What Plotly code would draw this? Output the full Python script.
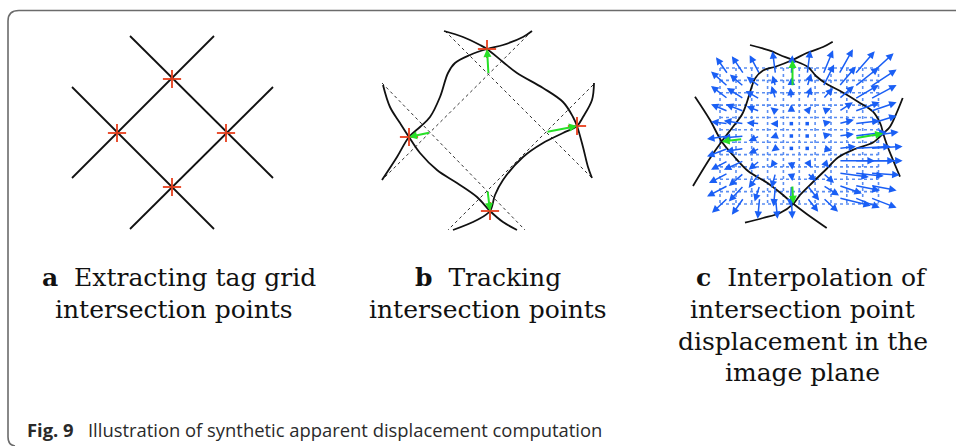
import plotly.graph_objects as go

W, H = 956, 446

# ---------------- Panel a: tag grid lines and intersection points ----------------
A_LINES_X = [[130, 273], [72, 214], [214, 72], [273, 130]]
A_LINES_Y = [[36, 178], [87, 229], [36, 178], [87, 229]]
A_PTS_X = [172, 117, 226, 172]
A_PTS_Y = [79, 133, 133, 187]

# ---------------- Panel b: original grid (dotted), deformed curves, tracked points ----------------
B_GRID_X = [[445, 593], [382, 525], [532, 382], [593, 448]]
B_GRID_Y = [[31, 179], [83, 230], [31, 180], [85, 230]]
B_ORIG_X = [488.5, 430.5, 546, 487.5]
B_ORIG_Y = [74.5, 132.5, 132, 190]
B_PTS_X = [487, 409, 577, 490]
B_PTS_Y = [49, 137, 126, 211]
B_CURVE1_X = [444, 463, 480, 487, 503, 517, 543, 563, 573, 577, 583, 588, 592]
B_CURVE1_Y = [31, 37, 45, 49, 62, 73, 88, 102, 117, 126, 147, 167, 178]
B_CURVE2_X = [532, 523, 503, 487, 470, 455, 448, 440, 430, 420, 409, 397, 382]
B_CURVE2_Y = [31, 37, 45, 49, 55, 63, 73, 97, 117, 127, 137, 157, 180]
B_CURVE3_X = [383, 390, 400, 409, 420, 437, 457, 477, 490, 503, 517]
B_CURVE3_Y = [85, 107, 123, 137, 153, 170, 183, 197, 211, 222, 230]
B_CURVE4_X = [594, 592, 583, 577, 563, 543, 523, 503, 495, 490, 477, 453]
B_CURVE4_Y = [83, 100, 117, 126, 133, 143, 157, 180, 195, 211, 220, 230]

# ---------------- Panel c: interpolated displacement field ----------------
C_GRID_X = [720, 736, 751.7, 767.6, 783.4, 799.3, 815.1, 831, 846.8, 862.7, 878.5]
C_GRID_Y = [68, 80.4, 92.7, 105.1, 117.5, 129.8, 142.2, 154.6, 166.9, 179.3, 191.6, 204]
# displacement per cell (rows top->bottom, cols left->right), in pixels
C_U = [
    [-12, -12, -10, -3, 1, 3, 10, 14, 20, 23],
    [-17, -14, -13, -3, 0, 4, 11, 17, 24, 26],
    [-17, -17, -14, -4, -1, 4, 10, 15, 24, 26],
    [-17, -18, -13, -5, 0, 4, 8, 14, 25, 26],
    [-17, -20, -13, -5, 0, 0, 8, 15, 25, 26],
    [-21, -21, -11, -5, 0, 0, 8, 15, 32, 28],
    [-21, -18, -11, -4, 0, 0, 9, 17, 36, 32],
    [-17, -20, -11, -5, 1, 4, 6, 36, 40, 32],
    [-19, -15, -11, -4, 1, 9, 11, 30, 29, 29],
    [-21, -15, -5, -2, -1, 12, 16, 23, 25, 26],
    [-16, -12, -2, 2, 1, 11, 15, 32, 25, 26],
]
C_V = [
    [-17, -18, -19, -23, -19, -24, -24, -25, -23, -21],
    [-15, -12, -10, -11, -9, -13, -22, -20, -19, -17],
    [-13, -11, -8, -13, -11, -12, -11, -13, -14, -14],
    [-7, -7, -5, -4, -7, -5, -3, -9, -9, -9],
    [-2, -3, -1, 0, 0, 0, -2, -4, -3, -8],
    [3, 2, 5, 2, 0, 0, -2, -2, -4, -4],
    [8, 3, 5, 3, 0, 0, 2, -2, -2, -2],
    [9, 9, 9, 7, 9, 7, 7, 0, 0, 0],
    [10, 13, 15, 15, 8, 8, 10, 4, 3, 2],
    [11, 16, 16, 21, 21, 15, 10, 8, 5, 5],
    [15, 17, 21, 21, 21, 14, 14, 8, 10, 10],
]
C_ORIG_X = [792.5, 742.7, 855, 792.3]
C_ORIG_Y = [86.7, 139, 138.3, 185]
C_PTS_X = [792.5, 721.7, 883.2, 793.3]
C_PTS_Y = [60, 141.5, 133.5, 203.8]
C_CURVE1_X = [750, 770, 780, 792.5, 808, 816, 826, 842, 858, 873, 880.5, 883.2, 887, 893, 900]
C_CURVE1_Y = [45, 50.7, 55, 60, 67, 76, 83.5, 92, 101.7, 111.7, 124, 133.5, 145, 160, 176.7]
C_CURVE2_X = [832.7, 823, 806.7, 792.5, 776, 763, 755, 751, 747, 742, 733, 721.7, 710.5, 693]
C_CURVE2_Y = [41.7, 47, 53, 60, 66.5, 70.5, 78.5, 89, 102, 114.5, 126.7, 141.5, 157.5, 186]
C_CURVE3_X = [695, 710, 721.7, 733.3, 748, 766.7, 780, 793.3, 806.7, 826.7]
C_CURVE3_Y = [96.7, 120, 141.5, 155.5, 171, 182.5, 192.5, 203.8, 214, 228]
C_CURVE4_X = [902.7, 897, 890, 883.2, 873, 855, 838, 826.5, 813, 800, 793.3, 780, 763, 745]
C_CURVE4_Y = [98, 112, 126.7, 133.5, 142.5, 149, 157.5, 169, 182, 195, 203.8, 213, 218, 222.7]

# ---------------- Captions ----------------
NB = "\u00a0"
CAPTIONS = [
    ("<b>a</b>" + NB * 2 + "Extracting tag grid", 179, 286.5),
    ("intersection points", 173.5, 318.5),
    ("<b>b</b>" + NB * 2 + "Tracking", 488, 286.5),
    ("intersection points", 488, 318.5),
    ("<b>c</b>" + NB * 2 + "Interpolation of", 811.5, 286.5),
    ("intersection point", 802, 318.5),
    ("displacement in the", 803, 350),
    ("image plane", 802.5, 381.5),
]
FIG_LABEL = "Fig. 9"
FIG_TITLE = "Illustration of synthetic apparent displacement computation"

BLACK = "#111111"
RED = "rgba(232,62,28,0.9)"
GREEN = "#27e027"
BLUE = "#1a5ff5"
GRID_BLUE = "#5b8ef2"

fig = go.Figure()


def seg_trace(xs_list, ys_list, color, width, dash="solid"):
    xs, ys = [], []
    for xs_i, ys_i in zip(xs_list, ys_list):
        xs += list(xs_i) + [None]
        ys += list(ys_i) + [None]
    return go.Scatter(x=xs, y=ys, mode="lines", hoverinfo="skip", showlegend=False,
                      line=dict(color=color, width=width, dash=dash))


def curve_trace(cx, cy):
    return go.Scatter(x=cx, y=cy, mode="lines", hoverinfo="skip", showlegend=False,
                      line=dict(color=BLACK, width=1.8, shape="spline", smoothing=1.0))


# Panel a
fig.add_trace(seg_trace(A_LINES_X, A_LINES_Y, BLACK, 1.8))

# Panel b
fig.add_trace(seg_trace(B_GRID_X, B_GRID_Y, "#333333", 1.0, dash="dot"))
for cx, cy in [(B_CURVE1_X, B_CURVE1_Y), (B_CURVE2_X, B_CURVE2_Y),
               (B_CURVE3_X, B_CURVE3_Y), (B_CURVE4_X, B_CURVE4_Y)]:
    fig.add_trace(curve_trace(cx, cy))

# Panel c: dotted blue grid
gx, gy = [], []
for x in C_GRID_X:
    gx += [x, x, None]
    gy += [C_GRID_Y[0], C_GRID_Y[-1], None]
for y in C_GRID_Y:
    gx += [C_GRID_X[0], C_GRID_X[-1], None]
    gy += [y, y, None]
fig.add_trace(go.Scatter(x=gx, y=gy, mode="lines", hoverinfo="skip", showlegend=False,
                         line=dict(color=GRID_BLUE, width=1.6, dash="dot")))

# arrow tails at cell centres
col_c = [(C_GRID_X[i] + C_GRID_X[i + 1]) / 2 for i in range(len(C_GRID_X) - 1)]
row_c = [(C_GRID_Y[j] + C_GRID_Y[j + 1]) / 2 for j in range(len(C_GRID_Y) - 1)]

annotations = []
dot_x, dot_y = [], []
for j, yc in enumerate(row_c):
    for i, xc in enumerate(col_c):
        u, v = C_U[j][i], C_V[j][i]
        if u == 0 and v == 0:
            dot_x.append(xc)
            dot_y.append(yc)
            continue
        annotations.append(dict(x=xc + u, y=yc + v, ax=xc, ay=yc, xref="x", yref="y",
                                axref="x", ayref="y", text="", showarrow=True,
                                arrowhead=2, arrowsize=1.0, arrowwidth=1.5, arrowcolor=BLUE))
fig.add_trace(go.Scatter(x=dot_x, y=dot_y, mode="markers", hoverinfo="skip", showlegend=False,
                         marker=dict(color=BLUE, size=3.5, symbol="square")))

for cx, cy in [(C_CURVE1_X, C_CURVE1_Y), (C_CURVE2_X, C_CURVE2_Y),
               (C_CURVE3_X, C_CURVE3_Y), (C_CURVE4_X, C_CURVE4_Y)]:
    fig.add_trace(curve_trace(cx, cy))

# green displacement arrows (panels b and c)
for ox, oy, px, py in list(zip(B_ORIG_X, B_ORIG_Y, B_PTS_X, B_PTS_Y)) + \
        list(zip(C_ORIG_X, C_ORIG_Y, C_PTS_X, C_PTS_Y)):
    annotations.append(dict(x=px, y=py, ax=ox, ay=oy, xref="x", yref="y",
                            axref="x", ayref="y", text="", showarrow=True,
                            arrowhead=2, arrowsize=0.8, arrowwidth=2.0, arrowcolor=GREEN))

# red crosses (panels a and b)
fig.add_trace(go.Scatter(x=A_PTS_X + B_PTS_X, y=A_PTS_Y + B_PTS_Y, mode="markers",
                         hoverinfo="skip", showlegend=False,
                         marker=dict(symbol="cross-thin", size=13,
                                     line=dict(color=RED, width=2))))

# captions
for txt, x, yb in CAPTIONS:
    annotations.append(dict(x=x, y=yb - 8.7, xref="x", yref="y", text=txt, showarrow=False,
                            xanchor="center", yanchor="middle",
                            font=dict(family="DejaVu Serif", size=25, color="#111111")))

annotations.append(dict(x=25, y=429, xref="x", yref="y", showarrow=False,
                        xanchor="left", yanchor="middle",
                        text="<b>" + FIG_LABEL + "</b>" + NB * 3 + FIG_TITLE,
                        font=dict(family="Open Sans", size=18.4, color="#2a2a2a")))

fig.update_layout(
    width=W, height=H,
    margin=dict(l=0, r=0, t=0, b=0, pad=0),
    paper_bgcolor="white", plot_bgcolor="white",
    xaxis=dict(range=[0, W], visible=False, fixedrange=True),
    yaxis=dict(range=[H, 0], visible=False, fixedrange=True),
    annotations=annotations,
    shapes=[dict(type="path", xref="x", yref="y",
                 path="M 15,446 Q 8,445 8,437 L 8,21 Q 8,10.5 19,10.5 L 956,10.5",
                 line=dict(color="#6b6b6b", width=1.6))],
    showlegend=False,
)

fig.write_html("out.html", config={"displayModeBar": False},
               post_script="document.body.style.margin='0';document.body.style.overflow='hidden';")
